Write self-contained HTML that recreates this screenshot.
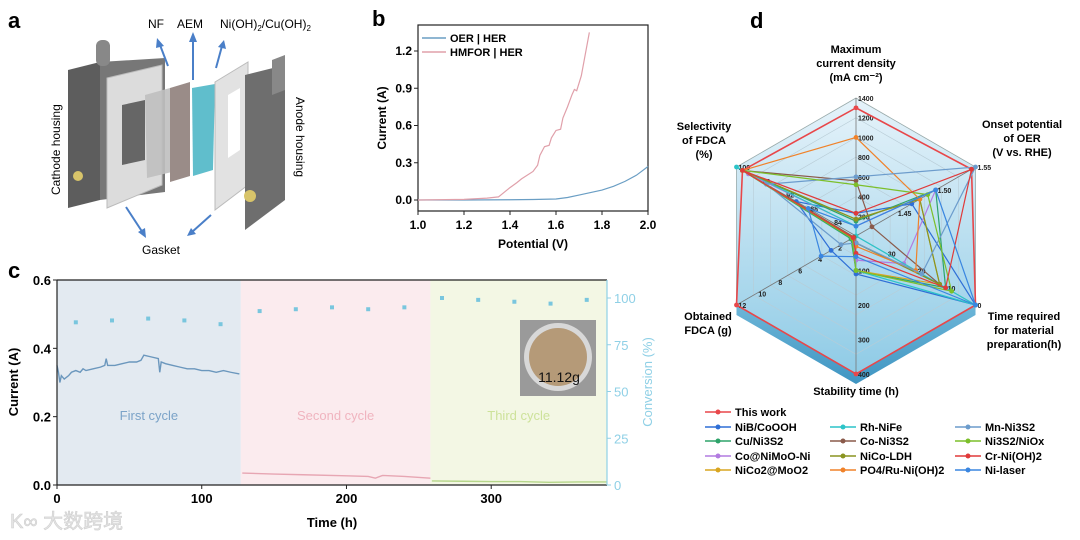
<!DOCTYPE html>
<html><head><meta charset="utf-8"><style>
html,body{margin:0;padding:0;background:#fff;}
svg{display:block;font-family:"Liberation Sans","Noto Sans CJK SC",sans-serif;}
</style></head><body>
<svg id="root" width="1080" height="540" viewBox="0 0 1080 540">
<defs>
<linearGradient id="hexg" x1="0" y1="0" x2="0" y2="1"><stop offset="0" stop-color="#e6f3fa"/><stop offset="1" stop-color="#8fcbe6"/></linearGradient>
<linearGradient id="hexs" x1="0" y1="0" x2="0" y2="1"><stop offset="0" stop-color="#6db6d8"/><stop offset="1" stop-color="#3f95c2"/></linearGradient>
</defs>
<!-- Panel a -->
<g>
<text x="8" y="28" font-size="22" font-weight="bold">a</text>
<polygon points="68,70 100,62 100,200 68,208" fill="#5d5d5d"/>
<polygon points="100,62 165,58 165,192 100,200" fill="#777"/>
<rect x="96" y="40" width="14" height="26" rx="6" fill="#888"/>
<circle cx="78" cy="176" r="5" fill="#d8c46a"/>
<polygon points="107,78 162,65 162,185 107,208" fill="#dcdcdc" stroke="#bbb"/>
<polygon points="122,105 145,100 145,160 122,165" fill="#666"/>
<polygon points="145,95 170,88 172,172 147,178" fill="#bfbfbf" opacity="0.9"/>
<polygon points="170,88 190,82 190,176 170,182" fill="#9a8c88"/>
<polygon points="192,88 215,84 213,170 193,176" fill="#4fb7c6" opacity="0.9"/>
<polygon points="215,82 248,62 248,185 215,210" fill="#e2e2e2" stroke="#bbb"/>
<polygon points="228,95 240,88 240,150 228,158" fill="#fff"/>
<polygon points="245,75 285,65 285,200 245,230" fill="#6e6e6e"/>
<polygon points="272,60 285,55 285,90 272,95" fill="#888"/>
<circle cx="250" cy="196" r="6" fill="#d8c46a"/>
<text x="148" y="28" font-size="12">NF</text>
<text x="177" y="28" font-size="12">AEM</text>
<text x="220" y="28" font-size="12">Ni(OH)<tspan font-size="8" dy="3">2</tspan><tspan dy="-3">/Cu(OH)</tspan><tspan font-size="8" dy="3">2</tspan></text>
<g stroke="#4a7fc8" stroke-width="2" fill="none"><line x1="168" y1="66" x2="160" y2="45"/><line x1="193" y1="80" x2="193" y2="38"/><line x1="216" y1="68" x2="222" y2="46"/><line x1="126" y1="207" x2="143" y2="233"/><line x1="211" y1="215" x2="192" y2="232"/></g>
<g fill="#4a7fc8"><polygon points="157,38 156,48 164,46"/><polygon points="193,32 189,42 197,42"/><polygon points="224,40 218,47 226,49"/><polygon points="146,238 138,232 145,228"/><polygon points="187,236 191,228 196,234"/></g>
<text x="142" y="254" font-size="12">Gasket</text>
<text transform="translate(60,195) rotate(-90)" font-size="12">Cathode housing</text>
<text transform="translate(296,97) rotate(90)" font-size="12">Anode housing</text>
</g>
<g id="pb"></g>
<g id="pc"></g>
<g id="pd"></g>
<text x="10" y="528" font-size="20" fill="#e4e4e4" stroke="#cfcfcf" stroke-width="0.6">K∞ 大数跨境</text>
</svg>
<script>
const NS="http://www.w3.org/2000/svg";
function mk(p,t,a,txt){const e=document.createElementNS(NS,t);for(const k in a)e.setAttribute(k,a[k]);if(txt!==undefined)e.textContent=txt;p.appendChild(e);return e;}

// ---------- Panel b data ----------
const bXTicks=[1.0,1.2,1.4,1.6,1.8,2.0];
const bYTicks=[0.0,0.3,0.6,0.9,1.2];
const oerV=[1.0,1.2,1.4,1.5,1.6,1.65,1.7,1.75,1.8,1.85,1.9,1.95,2.0];
const oerI=[0,0,0.002,0.004,0.008,0.02,0.04,0.06,0.08,0.11,0.15,0.2,0.27];
const hmfV=[1.0,1.2,1.3,1.35,1.36,1.4,1.43,1.45,1.5,1.52,1.53,1.55,1.57,1.58,1.6,1.62,1.63,1.65,1.67,1.68,1.69,1.71,1.73,1.745];
const hmfI=[0,0.005,0.015,0.025,0.04,0.1,0.14,0.17,0.23,0.28,0.36,0.43,0.44,0.5,0.56,0.57,0.66,0.75,0.85,0.89,0.88,1.0,1.2,1.35];
(function(){
 const g=document.getElementById('pb');
 const X0=418,X1=648,Y0=200,YT=25;
 const sx=v=>X0+(v-1.0)/1.0*(X1-X0), sy=v=>Y0-v/0.3*37.25;
 mk(g,'text',{x:372,y:26,'font-size':22,'font-weight':'bold',},'b');
 const f=mk(g,'rect',{x:X0,y:YT,width:X1-X0,height:211-YT,fill:'none',stroke:'#222','stroke-width':1.2});
 
 bXTicks.forEach(v=>{const x=sx(v);mk(g,'line',{x1:x,x2:x,y1:211,y2:215,stroke:'#222'});
  const t=mk(g,'text',{x:x,y:229,'font-size':12,'font-weight':'bold','text-anchor':'middle'},v.toFixed(1));
  });
 bYTicks.forEach(v=>{const y=sy(v);mk(g,'line',{x1:X0-4,x2:X0,y1:y,y2:y,stroke:'#222'});
  const t=mk(g,'text',{x:X0-6,y:y+4,'font-size':12,'font-weight':'bold','text-anchor':'end'},v.toFixed(1));
  });
 const xl=mk(g,'text',{x:533,y:248,'font-size':12,'font-weight':'bold','text-anchor':'middle'},'Potential (V)');
 
 const yl=mk(g,'text',{transform:'translate(386,118) rotate(-90)','font-size':12,'font-weight':'bold','text-anchor':'middle'},'Current (A)');
 
 const p1=mk(g,'polyline',{points:oerV.map((v,i)=>sx(v)+','+sy(oerI[i])).join(' '),fill:'none',stroke:'#6a9ec4','stroke-width':1.2});
 
 const p2=mk(g,'polyline',{points:hmfV.map((v,i)=>sx(v)+','+sy(hmfI[i])).join(' '),fill:'none',stroke:'#e0a0aa','stroke-width':1.2});
 
 mk(g,'line',{x1:422,x2:446,y1:38,y2:38,stroke:'#6a9ec4','stroke-width':1.5});
 const l1=mk(g,'text',{x:450,y:42,'font-size':11,'font-weight':'bold'},'OER | HER');
 
 mk(g,'line',{x1:422,x2:446,y1:52,y2:52,stroke:'#e0a0aa','stroke-width':1.5});
 const l2=mk(g,'text',{x:450,y:56,'font-size':11,'font-weight':'bold'},'HMFOR | HER');
 
})();

// ---------- Panel c data ----------
const cXTicks=[0,100,200,300];
const cYTicks=[0.0,0.2,0.4,0.6];
const cRTicks=[0,25,50,75,100];
const cycleBounds=[0,127,258,380];
const cycleNames=['First cycle','Second cycle','Third cycle'];
const c1T=[0,1,2,3,5,8,10,13,16,18,20,25,30,33,34,35,40,45,50,55,58,60,65,70,71,72,75,80,85,90,95,100,105,110,115,120,126];
const c1I=[0.35,0.33,0.30,0.32,0.31,0.32,0.33,0.335,0.33,0.34,0.335,0.34,0.345,0.35,0.37,0.35,0.35,0.355,0.36,0.36,0.365,0.38,0.375,0.37,0.33,0.36,0.355,0.35,0.345,0.34,0.34,0.335,0.335,0.33,0.335,0.33,0.325];
const c2T=[128,150,170,200,215,220,225,240,258];
const c2I=[0.035,0.032,0.03,0.027,0.025,0.02,0.028,0.025,0.02];
const c3T=[259,280,300,320,340,360,380];
const c3I=[0.012,0.011,0.01,0.01,0.008,0.009,0.009];
const convT=[13,38,63,88,113,140,165,190,215,240,266,291,316,341,366];
const convV=[87,88,89,88,86,93,94,95,94,95,100,99,98,97,99];
(function(){
 const g=document.getElementById('pc');
 const X0=57,X1=607,Y0=485,YT=280;
 const sx=v=>X0+v/380*(X1-X0), sy=v=>Y0-v/0.6*(Y0-YT), sr=v=>Y0-v/100*(Y0-298);
 mk(g,'text',{x:8,y:278,'font-size':22,'font-weight':'bold',},'c');
 const fills=['#e3eaf1','#fbebee','#f3f7e4'], lc=['#7ba3c8','#f0b4bf','#cde29a'], sc=['#6b97bd','#e7a6b3','#b6d68a'];
 for(let i=0;i<3;i++){
  const r=mk(g,'rect',{x:sx(cycleBounds[i]),y:YT,width:sx(cycleBounds[i+1])-sx(cycleBounds[i]),height:Y0-YT,fill:fills[i]});
  
  const t=mk(g,'text',{x:(sx(cycleBounds[i])+sx(cycleBounds[i+1]))/2,y:420,'font-size':13,'text-anchor':'middle',fill:lc[i]},cycleNames[i]);
  
 }
 [[c1T,c1I],[c2T,c2I],[c3T,c3I]].forEach((s,i)=>{
  const p=mk(g,'polyline',{points:s[0].map((t,j)=>sx(t)+','+sy(s[1][j])).join(' '),fill:'none',stroke:sc[i],'stroke-width':1.4});
  
 });
 convT.forEach((t,i)=>{const m=mk(g,'rect',{x:sx(t)-2,y:sr(convV[i])-2,width:4,height:4,fill:'#79c6de'});
  });
 mk(g,'line',{x1:X0,x2:X1,y1:YT,y2:YT,stroke:'#222','stroke-width':1.2});
 mk(g,'line',{x1:X0,x2:X1,y1:Y0,y2:Y0,stroke:'#222','stroke-width':1.2});
 mk(g,'line',{x1:X0,x2:X0,y1:YT,y2:Y0,stroke:'#222','stroke-width':1.2});
 mk(g,'line',{x1:X1,x2:X1,y1:YT,y2:Y0,stroke:'#8fd0e6','stroke-width':1.2});
 cXTicks.forEach(v=>{const x=sx(v);mk(g,'line',{x1:x,x2:x,y1:Y0,y2:Y0+4,stroke:'#222'});
  const t=mk(g,'text',{x:x,y:503,'font-size':13,'font-weight':'bold','text-anchor':'middle'},String(v));
  });
 cYTicks.forEach(v=>{const y=sy(v);mk(g,'line',{x1:X0-4,x2:X0,y1:y,y2:y,stroke:'#222'});
  const t=mk(g,'text',{x:X0-6,y:y+5,'font-size':13,'font-weight':'bold','text-anchor':'end'},v.toFixed(1));
  });
 cRTicks.forEach(v=>{const y=sr(v);mk(g,'line',{x1:X1,x2:X1+4,y1:y,y2:y,stroke:'#8fd0e6'});
  const t=mk(g,'text',{x:X1+7,y:y+5,'font-size':13,fill:'#8fd0e6'},String(v));
  });
 const xl=mk(g,'text',{x:332,y:527,'font-size':13,'font-weight':'bold','text-anchor':'middle'},'Time (h)');
 
 const yl=mk(g,'text',{transform:'translate(18,382) rotate(-90)','font-size':13,'font-weight':'bold','text-anchor':'middle'},'Current (A)');
 
 const rl=mk(g,'text',{transform:'translate(652,382) rotate(-90)','font-size':13,fill:'#8fd0e6','text-anchor':'middle'},'Conversion (%)');
 
 const ins=mk(g,'g',{});
 mk(ins,'rect',{x:520,y:320,width:76,height:76,fill:'#9a9a9a'});
 mk(ins,'circle',{cx:558,cy:357,r:34,fill:'#d8d8d8'});
 mk(ins,'circle',{cx:558,cy:357,r:29,fill:'#b59a78'});
 mk(ins,'text',{x:559,y:382,'font-size':14,'text-anchor':'middle',fill:'#111'},'11.12g');
})();

// ---------- Panel d data ----------
const axisNames=['max-current','onset','time','stability','fdca','selectivity'];
const axisMin=[0,1.40,40,0,0,80];
const axisMax=[1400,1.55,0,400,12,100];
const seriesNames=['This work','NiB/CoOOH','Cu/Ni3S2','Co@NiMoO-Ni','NiCo2@MoO2','Rh-NiFe','Co-Ni3S2','NiCo-LDH','PO4/Ru-Ni(OH)2','Mn-Ni3S2','Ni3S2/NiOx','Cr-Ni(OH)2','Ni-laser'];
const seriesColors=['#e8474a','#2f6fd6','#2ea36a','#b27be0','#d9a520','#2cc4c8','#8a5a4a','#8a9420','#f0822a','#6c9ccc','#7cbf2a','#e03a3a','#3a86e0'];
const sThis=[1300,1.545,0,400,12,99];
const sNiB=[230,1.47,0,110,2.5,90];
const sCu=[150,1.50,10,100,0.5,99];
const sCoNiMoO=[100,1.50,24,70,0.3,98];
const sNiCo2=[170,1.48,12,100,0.3,99];
const sRh=[100,1.40,0,100,0.3,100];
const sCoNi3S2=[560,1.42,12,20,0.2,99];
const sLDH=[170,1.48,12,20,0.3,99];
const sPO4=[1000,1.48,20,30,0.3,99];
const sMn=[600,1.55,18,20,1.5,95];
const sNiOx=[520,1.49,8,100,0.4,99];
const sCr=[230,1.545,10,50,0.3,99];
const sLaser=[100,1.50,0,60,3.5,88];
const allSeries=[sThis,sNiB,sCu,sCoNiMoO,sNiCo2,sRh,sCoNi3S2,sLDH,sPO4,sMn,sNiOx,sCr,sLaser];
const tickTop=[200,400,600,800,1000,1200,1400];
const tickStab=[100,200,300,400];
const tickFdca=[2,4,6,8,10,12];
const tickSel=[84,88,92,96,100];
const tickOnset=[1.45,1.50,1.55];
const tickTime=[30,20,10,0];
(function(){
 const g=document.getElementById('pd');
 const CX=856,CY=236,R=138;
 const ang=i=>(-90+60*i)*Math.PI/180;
 const pt=(i,f)=>[CX+R*f*Math.cos(ang(i)),CY+R*f*Math.sin(ang(i))];
 const frac=(i,v)=>(v-axisMin[i])/(axisMax[i]-axisMin[i]);
 mk(g,'text',{x:750,y:28,'font-size':22,'font-weight':'bold',},'d');
 const hexPts=f=>[0,1,2,3,4,5].map(i=>pt(i,f).join(',')).join(' ');
 // extrusion
 const ext=[0,1,2,3,4,5].map(i=>{const p=pt(i,1);return [p[0],p[1]+10];});
 mk(g,'polygon',{points:[pt(4,1),pt(3,1),pt(2,1),ext[2],ext[3],ext[4]].map(p=>p.join(',')).join(' '),fill:'url(#hexs)'});
 const bg=mk(g,'polygon',{points:hexPts(1),fill:'url(#hexg)',stroke:'#9aa','stroke-width':0.8});
 
 for(let k=1;k<7;k++)mk(g,'polygon',{points:hexPts(k/7),fill:'none',stroke:'#b8ccd6','stroke-width':0.6});
 for(let i=0;i<6;i++){const p=pt(i,1);mk(g,'line',{x1:CX,y1:CY,x2:p[0],y2:p[1],stroke:'#777','stroke-width':0.8});}
 const tk=(i,arr,fmt)=>arr.forEach(v=>{const p=pt(i,frac(i,v));const t=mk(g,'text',{x:p[0]+2,y:p[1]+3,'font-size':7,'font-weight':'bold',fill:'#222'},fmt(v));
  });
 tk(0,tickTop,v=>String(v));tk(1,tickOnset,v=>v.toFixed(2));tk(2,tickTime,v=>String(v));
 tk(3,tickStab,v=>String(v));tk(4,tickFdca,v=>String(v));tk(5,tickSel,v=>String(v));
 allSeries.forEach((s,si)=>{
  const pts=s.map((v,i)=>pt(i,Math.max(0,frac(i,v))));
  const p=mk(g,'polygon',{points:pts.map(q=>q.join(',')).join(' '),fill:'none',stroke:seriesColors[si],'stroke-width':si===0?1.6:1.2});
  
  pts.forEach(q=>{const m=mk(g,'circle',{cx:q[0],cy:q[1],r:2.4,fill:seriesColors[si]});
   });
 });
 const lab=(x,y,lines,anchor)=>{lines.forEach((l,k)=>{const t=mk(g,'text',{x:x,y:y+k*14,'font-size':11,'font-weight':'bold','text-anchor':anchor||'middle'},l);
  });};
 lab(856,53,['Maximum','current density','(mA cm⁻²)']);
 lab(1022,128,['Onset potential','of OER','(V vs. RHE)']);
 lab(1024,320,['Time required','for material','preparation(h)']);
 lab(856,395,['Stability time (h)']);
 lab(708,320,['Obtained','FDCA (g)']);
 lab(704,130,['Selectivity','of FDCA','(%)']);
 // legend
 const cols=[[705,[0,1,2,3,4]],[830,[5,6,7,8]],[955,[9,10,11,12]]];
 const rowY=[412,427,441,456,470];
 cols.forEach(c=>{c[1].forEach((si,k)=>{const y=c[0]===705?rowY[k]:rowY[k+1];
  mk(g,'line',{x1:c[0],x2:c[0]+26,y1:y,y2:y,stroke:seriesColors[si],'stroke-width':1.6});
  mk(g,'circle',{cx:c[0]+13,cy:y,r:2.5,fill:seriesColors[si]});
  const t=mk(g,'text',{x:c[0]+30,y:y+4,'font-size':11,'font-weight':'bold'},seriesNames[si]);
  });});
})();
</script>
</body></html>
